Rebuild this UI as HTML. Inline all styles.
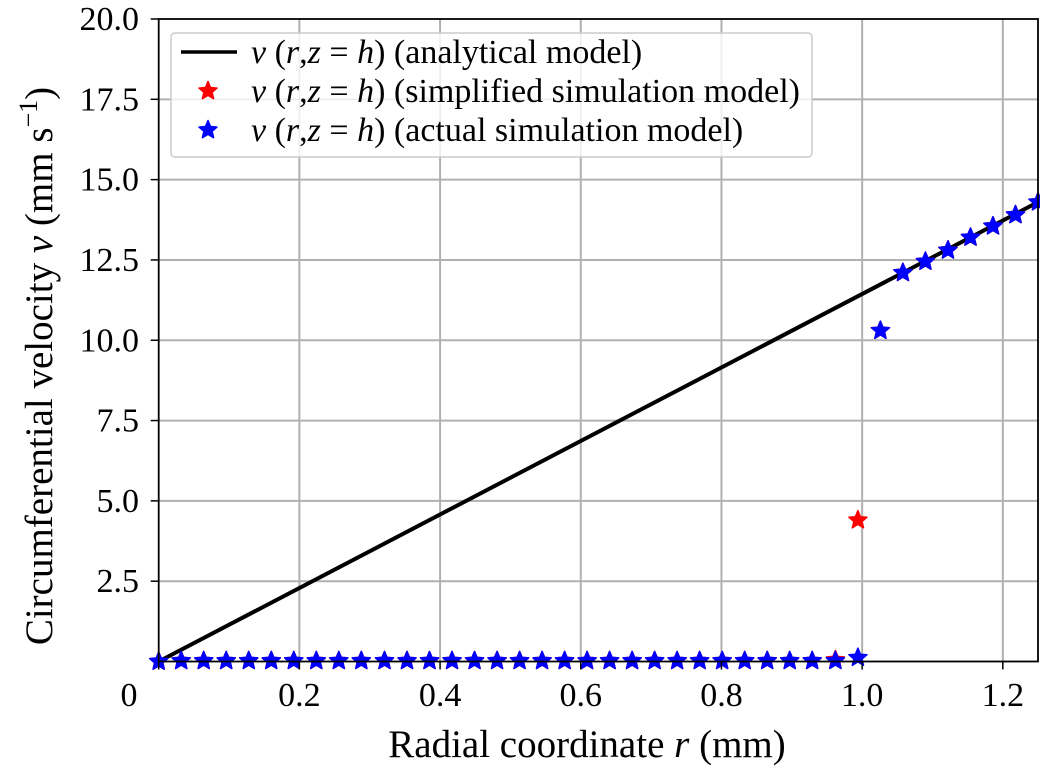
<!DOCTYPE html>
<html><head><meta charset="utf-8">
<style>
html,body{margin:0;padding:0;background:#fff;}
svg{display:block;font-family:"Liberation Serif",serif;}
</style></head>
<body>
<svg id="chart" width="1040" height="770" viewBox="0 0 1040 770" xmlns="http://www.w3.org/2000/svg">
<g id="grid"></g>
<g id="series"></g>
<g id="axes"></g>
<text x="587" y="757" font-size="39" text-anchor="middle">Radial coordinate <tspan font-style="italic">r</tspan> (mm)</text>
<text transform="translate(52,366) rotate(-90)" font-size="39" text-anchor="middle">Circumferential velocity <tspan font-style="italic">v</tspan> (mm s<tspan dy="-15" font-size="26">−1</tspan><tspan dy="15">)</tspan></text>
<g id="legend">
<rect x="171" y="33" width="641" height="124" rx="4" fill="#fff" fill-opacity="0.8" stroke="#ccc" stroke-width="1.5"/>
<line x1="181" y1="52" x2="237" y2="52" stroke="#000" stroke-width="3.5"/>
<text x="251" y="63" font-size="34"><tspan font-style="italic">v</tspan> (<tspan font-style="italic">r</tspan>,<tspan font-style="italic">z</tspan> = <tspan font-style="italic">h</tspan>) (analytical model)</text>
<text x="251" y="102" font-size="34"><tspan font-style="italic">v</tspan> (<tspan font-style="italic">r</tspan>,<tspan font-style="italic">z</tspan> = <tspan font-style="italic">h</tspan>) (simplified simulation model)</text>
<text x="251" y="141" font-size="34"><tspan font-style="italic">v</tspan> (<tspan font-style="italic">r</tspan>,<tspan font-style="italic">z</tspan> = <tspan font-style="italic">h</tspan>) (actual simulation model)</text>
</g>
</svg>
<script>
const xTicks=[0,0.2,0.4,0.6,0.8,1.0,1.2];
const xTickLabels=["0","0.2","0.4","0.6","0.8","1.0","1.2"];
const yTicks=[2.5,5,7.5,10,12.5,15,17.5,20];
const yTickLabels=["2.5","5.0","7.5","10.0","12.5","15.0","17.5","20.0"];
const analyticalR=[0,1.25];
const analyticalV=[0,14.3];
const simR=[0,0.032,0.064,0.096,0.128,0.160,0.192,0.224,0.256,0.288,0.321,0.353,0.385,0.417,0.449,0.481,0.513,0.545,0.577,0.609,0.641,0.673,0.705,0.737,0.769,0.801,0.833,0.865,0.897,0.929,0.962,0.994,1.026,1.058,1.090,1.122,1.154,1.186,1.218,1.25];
const simplifiedV=[0,0.02,0.02,0.02,0.02,0.02,0.02,0.02,0.02,0.02,0.02,0.02,0.02,0.02,0.02,0.02,0.02,0.02,0.02,0.02,0.02,0.02,0.02,0.02,0.02,0.02,0.02,0.02,0.02,0.02,0.05,4.4,10.3,12.1,12.45,12.8,13.2,13.55,13.9,14.3];
const actualV=[0,0.02,0.02,0.02,0.02,0.02,0.02,0.02,0.02,0.02,0.02,0.02,0.02,0.02,0.02,0.02,0.02,0.02,0.02,0.02,0.02,0.02,0.02,0.02,0.02,0.02,0.02,0.02,0.02,0.02,0.02,0.12,10.3,12.1,12.45,12.8,13.2,13.55,13.9,14.3];
const X0=158.7,X1=1038,Y0=661.5,Y1=19;
const xs=r=>X0+(r/1.25)*(X1-X0);
const ys=v=>Y0-(v/20)*(Y0-Y1);
const NS="http://www.w3.org/2000/svg";
function mk(t,a,p){const e=document.createElementNS(NS,t);for(const k in a)e.setAttribute(k,a[k]);p.appendChild(e);return e;}
const grid=document.getElementById('grid'),axes=document.getElementById('axes'),ser=document.getElementById('series');
xTicks.forEach((t,i)=>{
 const x=xs(t);
 if(t>0){const g=mk('line',{x1:x,x2:x,y1:Y1,y2:Y0,stroke:'#b0b0b0','stroke-width':2},grid);
 
 }
 const tk=mk('line',{x1:x,x2:x,y1:Y0,y2:Y0+8,stroke:'#000','stroke-width':1.5},axes);
 
 
 const lb=mk('text',{x:t===0?129:x,y:706,'font-size':34,'text-anchor':'middle'},axes);
 lb.textContent=xTickLabels[i];
 
 
});
yTicks.forEach((t,i)=>{
 const y=ys(t);
 if(t<20){const g=mk('line',{x1:X0,x2:X1,y1:y,y2:y,stroke:'#b0b0b0','stroke-width':2},grid);
 
 }
 const tk=mk('line',{x1:X0-8,x2:X0,y1:y,y2:y,stroke:'#000','stroke-width':1.5},axes);
 
 
 const lb=mk('text',{x:139,y:y+11,'font-size':34,'text-anchor':'end'},axes);
 lb.textContent=yTickLabels[i];
 
 
});
const frame=mk('rect',{x:X0,y:Y1,width:X1-X0,height:Y0-Y1,fill:'none',stroke:'#000','stroke-width':1.8},axes);


const ln=mk('polyline',{points:analyticalR.map((r,i)=>xs(r)+','+ys(analyticalV[i])).join(' '),fill:'none',stroke:'#000','stroke-width':4},ser);


function star(cx,cy,R,col,parent){
 let p=[];for(let k=0;k<10;k++){const a=-Math.PI/2+k*Math.PI/5;const rr=k%2?R*0.45:R;p.push((cx+rr*Math.cos(a)).toFixed(1)+','+(cy+rr*Math.sin(a)).toFixed(1));}
 return mk('polygon',{points:p.join(' '),fill:col,stroke:col,'stroke-width':1.5,'stroke-linejoin':'round'},parent);
}
simR.forEach((r,i)=>{const s=star(xs(r),ys(simplifiedV[i]),9.5,'#ff0000',ser);
 
 });
simR.forEach((r,i)=>{const s=star(xs(r),ys(actualV[i]),9.5,'#0000ff',ser);
 
 });
const lg=document.getElementById('legend');
const s1=star(208,91,9.5,'#ff0000',lg);


const s2=star(208,130,9.5,'#0000ff',lg);


</script>
</body></html>
